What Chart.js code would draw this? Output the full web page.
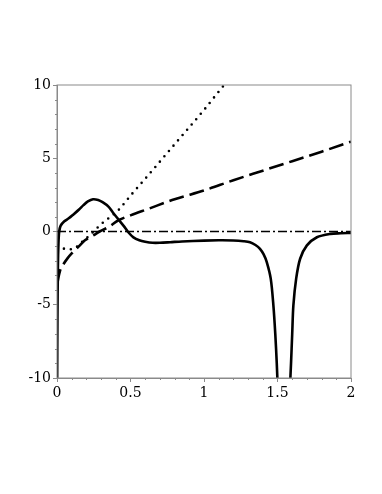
<!DOCTYPE html>
<html>
<head>
<meta charset="utf-8">
<script src="https://cdn.jsdelivr.net/npm/chart.js@4.4.0/dist/chart.umd.min.js"></script>
<style>
  body { margin: 0; background: #fff; }
  canvas { display: block; }
</style>
</head>
<body>
<canvas id="myChart" width="382" height="494"></canvas>
<script>
//tick labels for both axes
const xTicks = [0, 0.5, 1, 1.5, 2];
const xTickLabels = ['0', '0.5', '1', '1.5', '2'];
const yTicks = [-10, -5, 0, 5, 10];
const yTickLabels = ['-10', '-5', '0', '5', '10'];

//solid curve (null = break at the pole near 1.55)
const solidX = [0.001, 0.003, 0.006, 0.01, 0.015, 0.025, 0.05, 0.08, 0.11, 0.15, 0.18, 0.21, 0.245, 0.28, 0.31, 0.35, 0.38, 0.42, 0.46, 0.485, 0.52, 0.56, 0.6, 0.65, 0.7, 0.77, 0.85, 1.0, 1.1, 1.2, 1.27, 1.313, 1.35, 1.381, 1.405, 1.427, 1.454, 1.472, 1.485, 1.495, 1.503, 1.545, 1.583, 1.592, 1.6, 1.608, 1.627, 1.654, 1.7, 1.768, 1.86, 1.93, 2.0];
const solidY = [-10.5, -6, -2.5, -0.8, 0, 0.4, 0.7, 0.9, 1.15, 1.5, 1.8, 2.05, 2.2, 2.15, 2.0, 1.7, 1.3, 0.8, 0.3, -0.05, -0.4, -0.6, -0.7, -0.77, -0.77, -0.73, -0.68, -0.62, -0.6, -0.61, -0.66, -0.73, -0.92, -1.18, -1.55, -2.09, -3.22, -5.04, -7, -9, -11, null, -11, -9, -7, -5.04, -3.22, -1.86, -0.95, -0.39, -0.16, -0.12, -0.1];

//dashed curve
const dashX = [0.002, 0.006, 0.02, 0.04, 0.07, 0.1, 0.15, 0.19, 0.25, 0.29, 0.35, 0.415, 0.5, 0.62, 0.8, 1.0, 1.2, 1.4, 1.6, 1.8, 2.0];
const dashY = [-3.6, -3.34, -2.7, -2.3, -1.85, -1.5, -1.0, -0.6, -0.25, 0, 0.3, 0.75, 1.1, 1.54, 2.2, 2.8, 3.5, 4.15, 4.8, 5.45, 6.13];

//dotted curve
const dotX = [0.005, 0.03, 0.07, 0.11, 0.16, 0.2, 0.25, 0.3, 0.35, 0.415, 0.506, 0.6, 0.8, 1.0, 1.1, 1.2];
const dotY = [-0.95, -1.1, -1.22, -1.2, -0.8, -0.45, 0.0, 0.5, 0.9, 1.43, 2.52, 3.6, 5.95, 8.3, 9.55, 10.75];

//dash-dot line along zero
const zeroX = [0, 2];
const zeroY = [0, 0];

var toPoints = function(xs, ys) {
	return xs.map(function(x, i) { return {x: x, y: ys[i]}; });
};

const AXIS_GREY = '#8a8a8a';
const FONT = {family: 'DejaVu Serif', size: 14};

//box around the plot and short minor ticks
var framePlugin = {
	id: 'frame',
	afterDraw: function(chart) {
		const c = chart.ctx;
		const a = chart.chartArea;
		const xs = chart.scales.x;
		const ys = chart.scales.y;
		c.save();
		c.strokeStyle = AXIS_GREY;
		c.lineWidth = 1;
		c.strokeRect(a.left, a.top, a.right - a.left, a.bottom - a.top);
		c.beginPath();
		for (var i = -10; i <= 10; i++) {
			if (i % 5 == 0) continue;
			var py = Math.round(ys.getPixelForValue(i)) + 0.5;
			c.moveTo(a.left - 2, py);
			c.lineTo(a.left, py);
		}
		for (var j = 0; j <= 20; j++) {
			if (j % 5 == 0) continue;
			var px = Math.round(xs.getPixelForValue(j / 10)) + 0.5;
			c.moveTo(px, a.bottom);
			c.lineTo(px, a.bottom + 2);
		}
		c.stroke();
		c.restore();
	}
};

var ctx = document.getElementById('myChart');
new Chart(ctx, {
	type: 'scatter',
	data: {
		datasets: [
		{
			data: toPoints(zeroX, zeroY),
			showLine: true,
			borderColor: '#000',
			borderWidth: 1.5,
			borderDash: [9, 3, 2, 3],
			pointRadius: 0
		},
		{
			data: toPoints(dotX, dotY),
			showLine: true,
			borderColor: '#000',
			borderWidth: 2.6,
			borderDash: [0, 7],
			borderCapStyle: 'round',
			cubicInterpolationMode: 'monotone',
			pointRadius: 0
		},
		{
			data: toPoints(dashX, dashY),
			showLine: true,
			borderColor: '#000',
			borderWidth: 2.6,
			borderDash: [15, 6],
			cubicInterpolationMode: 'monotone',
			pointRadius: 0
		},
		{
			data: toPoints(solidX, solidY),
			showLine: true,
			spanGaps: false,
			borderColor: '#000',
			borderWidth: 2.6,
			tension: 0.3,
			pointRadius: 0
		}
		]
	},
	options: {
		responsive: false,
		animation: false,
		layout: { padding: { top: 85, right: 31, bottom: 86, left: 0 } },
		plugins: { legend: { display: false }, tooltip: { enabled: false } },
		scales: {
			x: {
				type: 'linear',
				min: 0,
				max: 2,
				afterFit: function(scale) { scale.height = 30; },
				afterBuildTicks: function(scale) { scale.ticks = xTicks.map(function(v) { return {value: v}; }); },
				border: { color: AXIS_GREY, width: 1 },
				grid: { drawOnChartArea: false, tickLength: 4, color: AXIS_GREY },
				ticks: {
					font: FONT, color: '#000', padding: 3, maxRotation: 0, autoSkip: false,
					callback: function(v) { return xTickLabels[xTicks.indexOf(v)]; }
				}
			},
			y: {
				type: 'linear',
				min: -10,
				max: 10,
				afterFit: function(scale) { scale.width = 57; },
				afterBuildTicks: function(scale) { scale.ticks = yTicks.map(function(v) { return {value: v}; }); },
				border: { color: AXIS_GREY, width: 1 },
				grid: { drawOnChartArea: false, tickLength: 4, color: AXIS_GREY },
				ticks: {
					font: FONT, color: '#000', padding: 2, autoSkip: false,
					callback: function(v) { return yTickLabels[yTicks.indexOf(v)]; }
				}
			}
		}
	},
	plugins: [framePlugin]
});
</script>
</body>
</html>
